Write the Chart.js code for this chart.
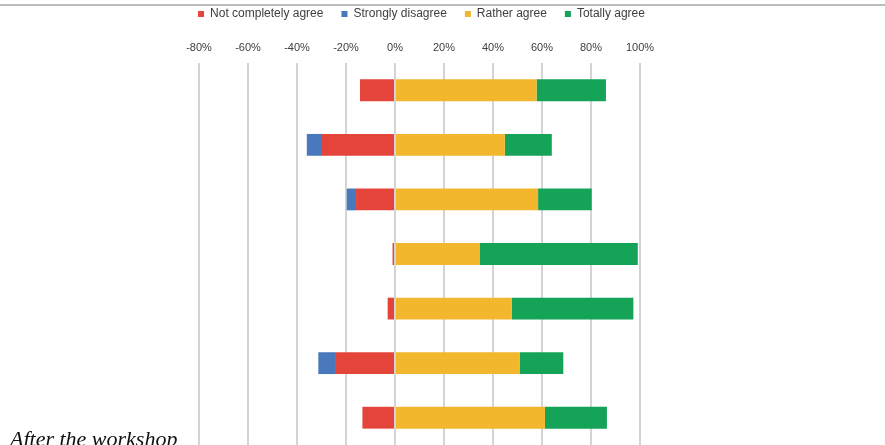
<!DOCTYPE html>
<html>
<head>
<meta charset="utf-8">
<script src="https://cdn.jsdelivr.net/npm/chart.js@4"></script>
<style>
  html, body { margin: 0; padding: 0; background: #fff; overflow: hidden; }
  #wrap { position: relative; width: 885px; height: 445px; }
  #caption {
    position: absolute; left: 10px; top: 425px;
    font: italic 22px "Liberation Serif", "DejaVu Serif", serif;
    color: #111; white-space: nowrap; line-height: 28px;
  }
</style>
</head>
<body>
<div id="wrap">
  <canvas id="chart-bar" width="885" height="445"></canvas>
  <div id="caption">After the workshop</div>
</div>
<script>
// answers, one row per statement (values in %)
var statements = ["S1", "S2", "S3", "S4", "S5", "S6", "S7"];
var notCompletely = [-14.3, -29.8, -15.9, -1, -3, -24.1, -13.3];
var stronglyDisagree = [0, -6.2, -3.8, 0, 0, -7.2, 0];
var ratherAgree = [57.8, 44.8, 58.4, 34.7, 47.6, 51, 61.2];
var totallyAgree = [28.3, 19.2, 21.9, 64.4, 49.7, 17.7, 25.3];
var tickValues = [-80, -60, -40, -20, 0, 20, 40, 60, 80, 100];

// thin grey rule across the top
var topRule = {
  id: 'topRule',
  beforeDraw: function(chart) {
    var c = chart.ctx;
    c.save();
    c.fillStyle = '#fff';
    c.fillRect(0, 0, chart.width, chart.height);
    c.strokeStyle = '#a6a6a6';
    c.lineWidth = 1.5;
    c.beginPath();
    c.moveTo(0, 5);
    c.lineTo(chart.width, 5);
    c.stroke();
    c.restore();
  }
};

var ctx = document.getElementById('chart-bar');
var myChart = new Chart(ctx, {
  type: 'bar',
  data: {
    labels: statements,
    datasets: [
      { label: 'Not completely agree', data: notCompletely, backgroundColor: '#E5443B' },
      { label: 'Strongly disagree', data: stronglyDisagree, backgroundColor: '#4A78BD' },
      { label: 'Rather agree', data: ratherAgree, backgroundColor: '#F2B72C' },
      { label: 'Totally agree', data: totallyAgree, backgroundColor: '#14A357' }
    ]
  },
  options: {
    indexAxis: 'y',
    responsive: false,
    animation: false,
    devicePixelRatio: 1,
    barPercentage: 0.4,
    categoryPercentage: 1,
    layout: { padding: { left: 0, right: 42, top: -10, bottom: 0 } },
    scales: {
      x: {
        position: 'top',
        stacked: true,
        min: -80,
        max: 100,
        afterBuildTicks: function(axis) {
          axis.ticks = tickValues.map(function(v) { return { value: v }; });
        },
        afterFit: function(axis) { axis.height = 33; },
        border: { display: false },
        grid: { color: '#d4d4d4', lineWidth: 2, drawTicks: false },
        ticks: {
          padding: 8,
          color: '#404040',
          font: { family: 'Liberation Sans, Arial, sans-serif', size: 11 },
          callback: function(v) { return v + '%'; }
        }
      },
      y: {
        stacked: true,
        afterFit: function(axis) { axis.width = 199; },
        border: { display: false },
        grid: { display: false },
        ticks: { display: false }
      },
      // empty axis just to hold the white space on the right
      yRight: {
        type: 'linear',
        position: 'right',
        afterFit: function(axis) { axis.width = 203; },
        border: { display: false },
        grid: { display: false },
        ticks: { display: false }
      }
    },
    plugins: {
      legend: {
        position: 'top',
        labels: {
          boxWidth: 6,
          boxHeight: 6,
          padding: 18,
          color: '#404040',
          font: { family: 'Liberation Sans, Arial, sans-serif', size: 12 }
        }
      },
      tooltip: { enabled: false }
    }
  },
  plugins: [topRule]
});
</script>
</body>
</html>
